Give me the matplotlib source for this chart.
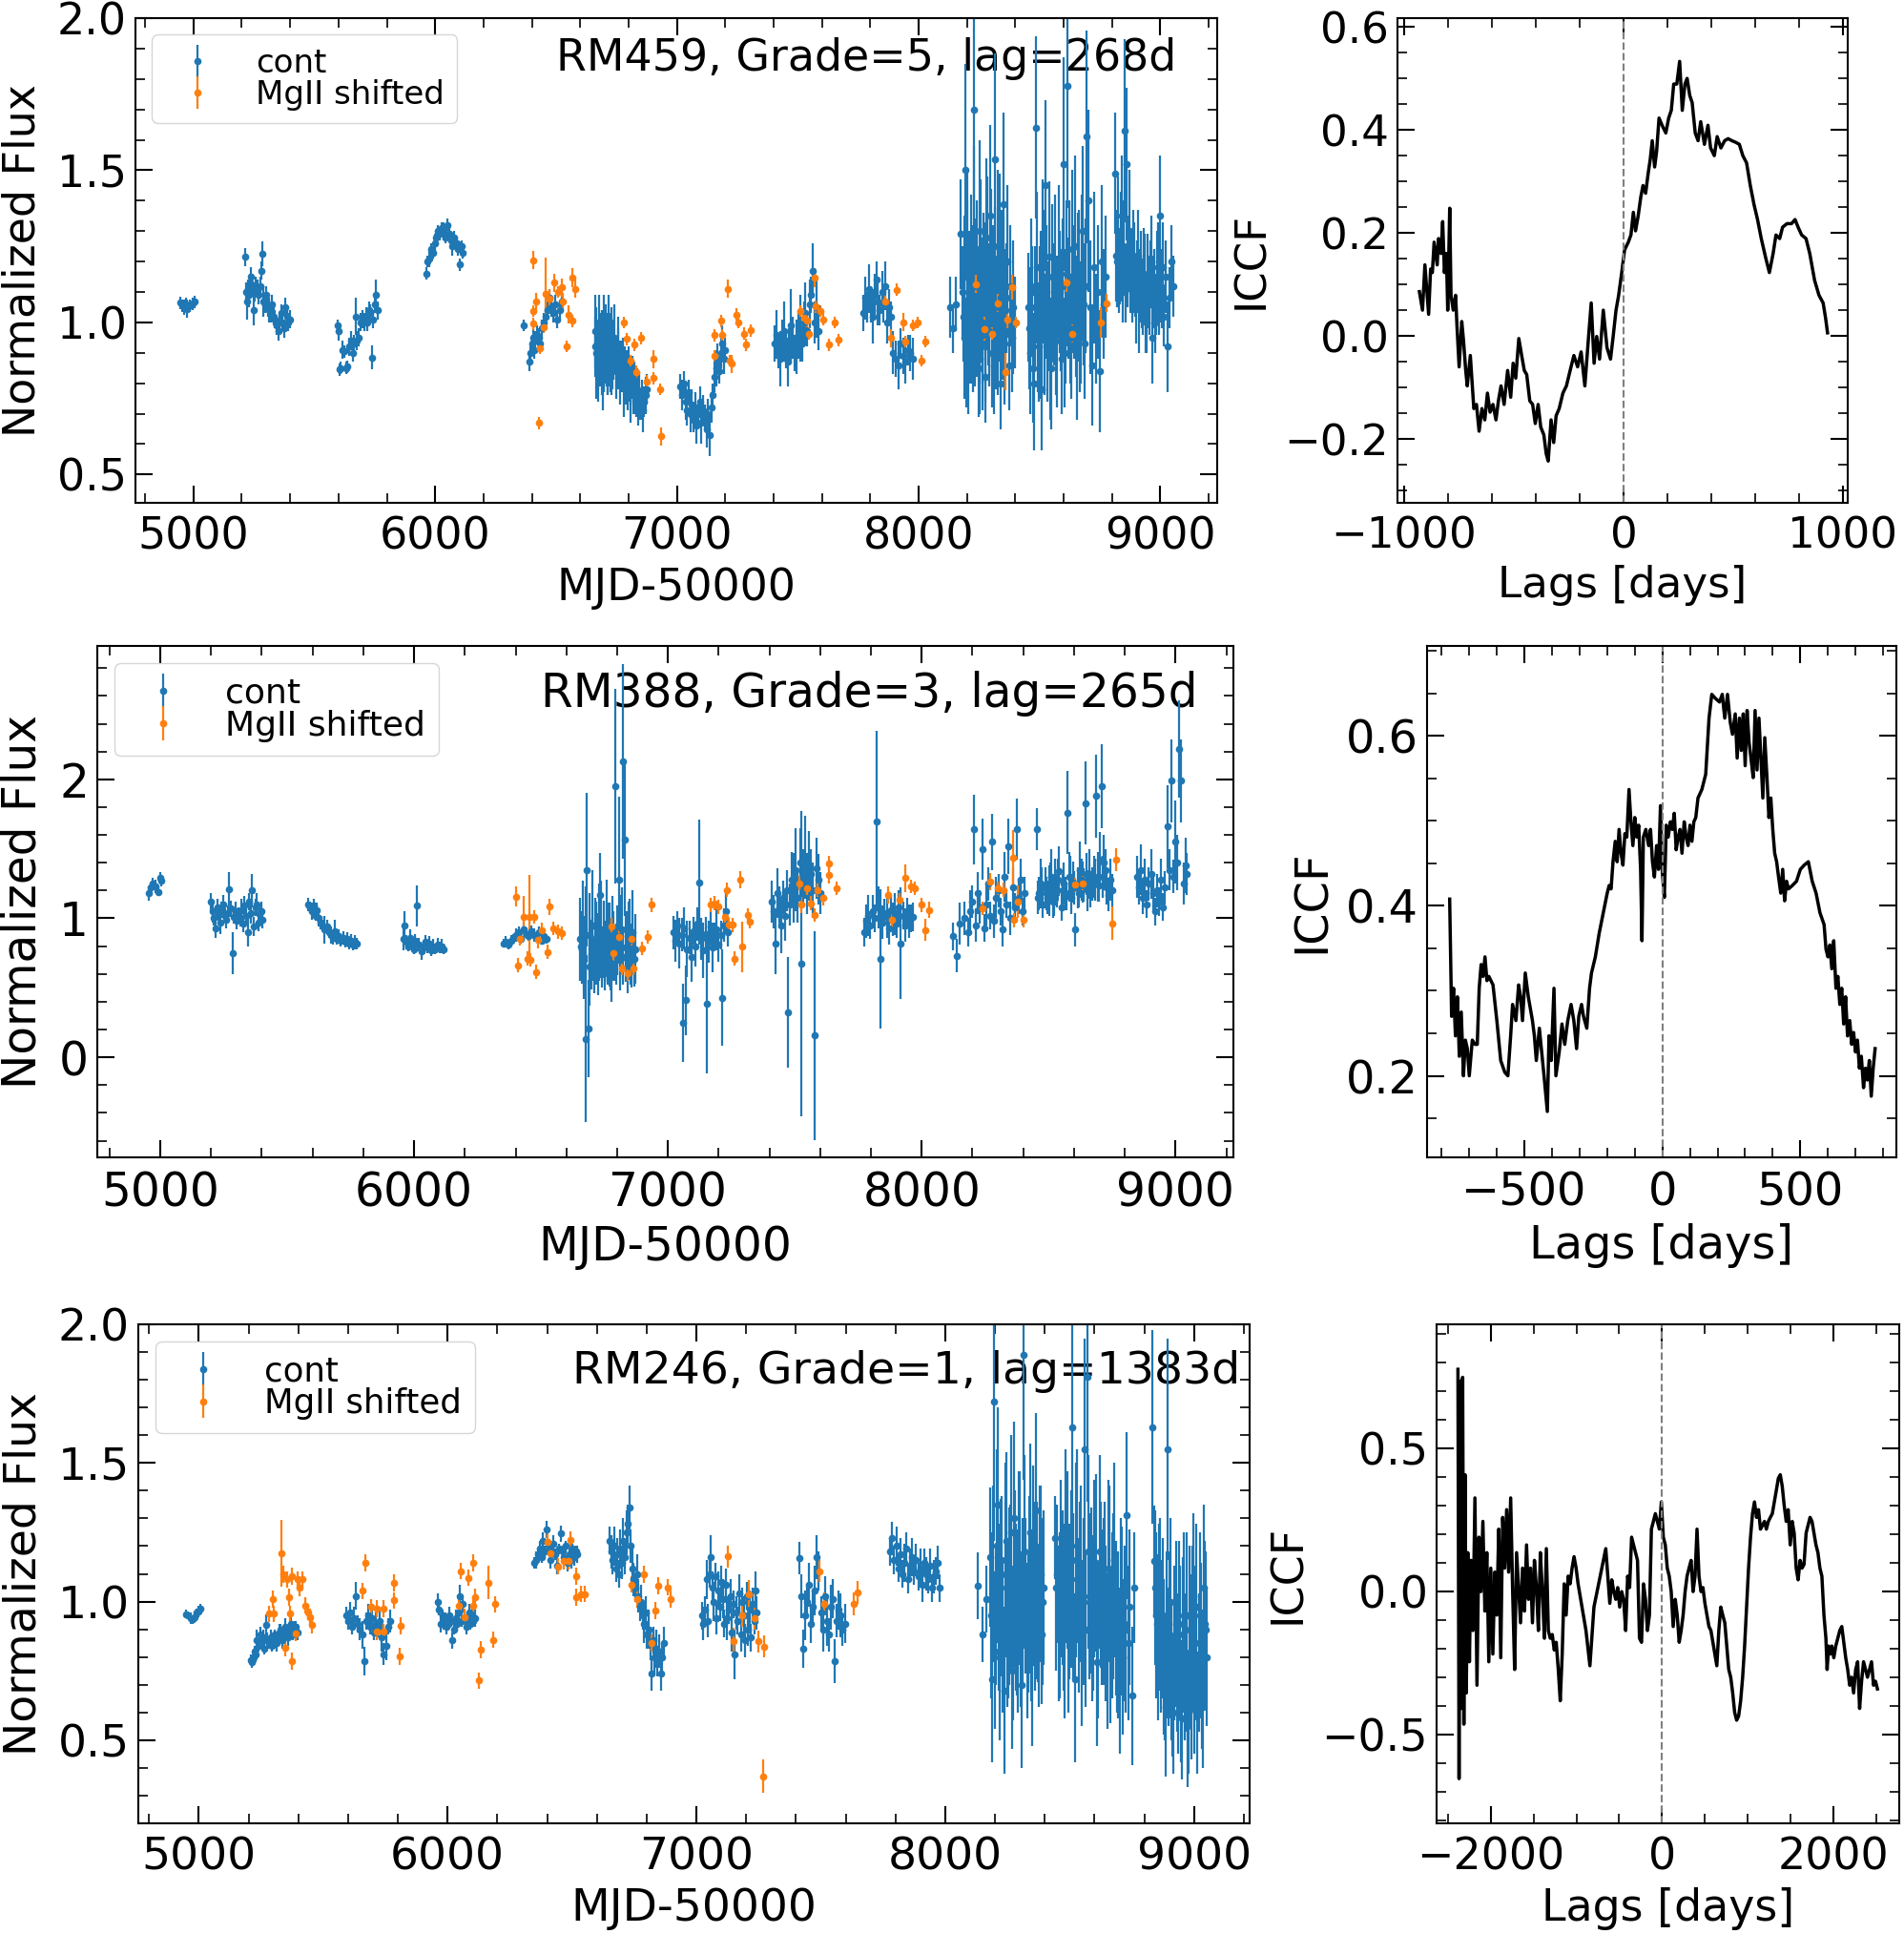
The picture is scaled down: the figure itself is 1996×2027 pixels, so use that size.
import matplotlib
matplotlib.use("Agg")
import matplotlib.pyplot as plt
from matplotlib.ticker import MultipleLocator
from matplotlib.transforms import blended_transform_factory

# ---------------- RM459 ----------------
rm459_cont_t = [4945,4952,4960,4968,4975,4985,4995,5005,
    5213,5216,5220,5224,5228,5233,5238,5243,5248,5253,5258,5264,5270,5276,5280,5284,5290,5296,5302,5308,5314,5320,5326,5332,5338,5344,5350,5356,5362,5368,5374,5380,5386,5392,5398,
    5598,5600,5604,5610,5618,5625,5632,5638,5645,5652,5658,5664,5670,5676,5684,5690,5700,5708,5714,5720,5726,5732,5738,5744,5750,5756,5762,
    5963,5968,5975,5982,5990,5998,6005,6012,6020,6028,6035,6042,6050,6058,6065,6072,6080,6088,6095,6100,6108,6115,
    6368,6390,6395,6400,6405,6410,6415,6420,6428,6435,6442,6450,6458,6465,6472,6480,6488,6495,6505,6515,6525,
    6662,6666,6670,6674,6678,6682,6686,6690,6694,6698,6702,6706,6710,6714,6718,6722,6726,6730,
    6735,6740,6745,6750,6755,6760,6765,6770,6775,6780,6785,6790,6795,6800,6805,6810,6815,6820,6825,6830,6835,6840,6845,6850,6855,6860,6865,6870,6875,
    6664,6672,6680,6688,6696,6704,6712,6720,6728,6738,6748,6758,6768,6778,6788,6798,6808,6818,6828,6838,
    7015,7022,7028,7035,7042,7048,7055,7062,7068,7075,7082,7088,7095,7102,7108,7115,7122,7128,7135,7142,7148,7155,7162,7168,7175,7182,7188,7195,7200,
    7405,7412,7420,7428,7435,7442,7450,7458,7465,7472,7480,7488,7495,7502,7510,7518,7525,7532,7540,7548,7555,7562,7570,7578,7585,
    7772,7780,7788,7795,7802,7810,7818,7825,7832,7840,7848,7855,7862,7870,7878,7885,7895,7905,7915,7925,7935,7945,7955,7965,7975,
    8132,8140,8155,8175,8182,8188,8194,8200,8206,8212,8218,8224,8230,8236,8242,8248,8254,8260,8266,8272,8278,8284,8290,8296,8302,8308,8314,8320,8326,8332,8338,8344,8350,8356,8362,8368,8374,8380,8386,8392,8398,
    8185,8191,8197,8203,8209,8215,8221,8227,8233,8239,8245,8251,8257,8263,8269,8275,8281,8287,8293,8299,8305,8311,8317,8323,8329,8335,8341,8347,8353,8359,
    8454,8462,8470,8478,8486,8494,8502,8510,8518,8526,8534,8542,8550,8558,8566,8574,8582,8590,8598,8606,8614,8622,8630,8638,8646,8654,8662,8670,8678,8686,8694,8702,8710,8718,8726,8734,8742,8750,8758,8766,8774,
    8458,8466,8474,8482,8490,8498,8506,8514,8522,8530,8538,8546,8554,8562,8570,8578,8586,8594,8602,8610,8618,8626,8634,8642,8650,8658,8666,8674,8682,8690,
    8814,8822,8830,8838,8846,8854,8862,8870,8878,8886,8894,8902,8910,8918,8926,8934,8942,8950,8958,8966,8974,8982,8990,8998,9006,9014,9022,9030,9038,9046,9054,
    8818,8826,8834,8842,8850,8858,8866,8874,8882,8890,8898,8906,8914,8922,8930,8938,8946,8954,8962,8970,8978,8986,8994,9002,9010]
rm459_cont_f = [1.065,1.055,1.050,1.060,1.045,1.055,1.062,1.068,
    1.215,1.10,1.07,1.11,1.09,1.13,1.15,1.12,1.04,1.10,1.12,1.11,1.09,1.12,1.17,1.225,1.07,1.06,1.09,1.05,1.04,1.03,1.06,1.02,1.01,0.99,0.97,1.00,1.03,1.00,0.98,1.05,1.02,1.00,1.01,
    0.99,0.97,0.845,0.85,0.91,0.905,0.85,0.855,0.92,0.94,0.90,0.93,1.02,0.94,0.95,1.00,1.01,1.00,1.02,1.00,1.04,1.03,0.885,1.01,1.06,1.09,1.04,
    1.16,1.20,1.21,1.24,1.23,1.26,1.28,1.30,1.29,1.31,1.30,1.28,1.32,1.29,1.27,1.25,1.28,1.26,1.24,1.19,1.25,1.23,
    0.99,0.87,0.90,0.93,0.95,0.91,0.94,0.96,0.95,0.93,0.98,1.00,1.02,1.04,1.08,1.05,1.03,1.06,1.01,1.04,1.07,
    0.97,0.90,0.93,0.88,0.95,0.86,0.92,0.89,0.84,0.93,0.96,0.88,0.91,0.85,0.94,0.90,0.87,0.92,
    0.86,0.95,0.89,0.84,0.90,0.87,0.83,0.88,0.85,0.80,0.86,0.82,0.78,0.84,0.80,0.77,0.82,0.76,0.79,0.74,0.78,0.72,0.76,0.73,0.75,0.71,0.74,0.76,0.78,
    0.92,0.86,0.95,0.90,0.88,0.94,0.85,0.92,0.89,0.91,0.86,0.88,0.84,0.86,0.81,0.83,0.79,0.80,0.76,0.77,
    0.79,0.76,0.80,0.74,0.71,0.77,0.70,0.73,0.68,0.72,0.66,0.70,0.74,0.67,0.71,0.69,0.65,0.70,0.63,0.72,0.76,0.82,0.85,0.88,0.84,0.90,0.93,0.88,0.91,
    0.93,0.96,0.90,0.88,0.94,0.97,0.91,0.87,0.93,0.99,0.95,0.90,0.92,0.96,0.98,0.93,1.00,1.03,0.97,1.06,1.09,1.17,1.00,1.05,0.97,
    1.03,1.08,1.05,1.11,1.06,1.02,1.09,1.14,1.07,1.04,1.10,1.06,1.12,1.00,1.05,1.02,0.90,0.88,0.86,0.93,0.89,0.87,0.91,0.90,0.88,
    1.05,0.98,1.06,1.29,1.10,0.95,1.50,1.18,0.88,1.05,1.22,0.92,1.70,1.12,1.00,0.85,1.30,1.08,0.96,1.15,0.82,1.20,1.02,1.35,0.90,1.10,1.535,0.98,1.25,1.05,0.80,1.15,1.39,0.93,1.08,1.20,0.86,1.12,0.95,1.05,1.00,
    1.02,1.15,0.90,1.25,1.08,0.98,1.12,1.30,0.95,1.18,1.05,0.88,1.22,1.00,1.14,0.92,1.28,1.06,0.97,1.20,1.10,0.86,1.16,1.02,0.94,1.24,1.08,0.99,1.13,1.04,
    1.05,0.90,1.10,0.80,1.64,0.95,1.00,0.78,1.15,1.45,0.92,1.215,0.85,1.05,1.20,0.97,1.10,0.88,1.52,1.02,1.776,1.15,0.95,1.08,1.25,0.90,1.12,1.00,1.30,0.93,1.61,1.40,1.05,0.86,1.18,0.98,1.10,0.84,1.20,1.06,1.15,
    0.98,1.12,0.85,1.05,1.18,0.92,1.08,1.22,0.96,1.10,1.02,0.88,1.15,1.06,0.94,1.20,1.04,1.12,0.90,1.16,1.08,0.98,1.24,1.10,1.02,1.14,0.95,1.18,1.06,1.12,
    1.49,1.20,1.15,1.25,1.10,1.63,1.52,1.30,1.18,1.22,1.12,1.15,1.05,1.20,1.08,1.14,1.00,1.10,1.17,0.95,1.12,1.06,1.18,1.35,1.10,1.02,1.15,0.92,1.08,1.20,1.12,
    1.22,1.30,1.18,1.35,1.25,1.12,1.20,1.15,1.10,1.18,1.05,1.22,1.12,1.08,1.16,1.02,1.14,1.06,1.20,1.10,1.00,1.15,1.08,1.12,1.18]
rm459_cont_e = [0.02,0.02,0.025,0.02,0.03,0.02,0.02,0.02,
    0.03,0.03,0.06,0.03,0.04,0.03,0.03,0.03,0.05,0.03,0.03,0.03,0.03,0.03,0.03,0.04,0.05,0.03,0.03,0.03,0.04,0.03,0.03,0.03,0.03,0.03,0.03,0.03,0.03,0.03,0.03,0.03,0.03,0.03,0.03,
    0.02,0.03,0.02,0.02,0.03,0.02,0.02,0.02,0.03,0.03,0.03,0.03,0.06,0.03,0.03,0.03,0.03,0.03,0.03,0.03,0.03,0.03,0.04,0.03,0.03,0.05,0.03,
    0.02,0.02,0.03,0.02,0.02,0.03,0.02,0.02,0.02,0.02,0.03,0.02,0.02,0.02,0.02,0.03,0.02,0.02,0.02,0.02,0.02,0.02,
    0.02,0.03,0.03,0.03,0.03,0.03,0.03,0.03,0.03,0.03,0.03,0.03,0.03,0.03,0.03,0.03,0.03,0.03,0.03,0.03,0.03,
    0.12,0.15,0.08,0.10,0.14,0.07,0.11,0.09,0.13,0.16,0.10,0.08,0.12,0.09,0.15,0.07,0.10,0.13,
    0.08,0.11,0.06,0.09,0.12,0.07,0.10,0.06,0.08,0.11,0.06,0.09,0.07,0.08,0.06,0.10,0.07,0.06,0.08,0.05,0.07,0.06,0.08,0.05,0.06,0.07,0.05,0.06,0.05,
    0.10,0.12,0.08,0.14,0.10,0.12,0.09,0.11,0.13,0.10,0.08,0.10,0.07,0.09,0.07,0.08,0.06,0.07,0.06,0.06,
    0.04,0.05,0.04,0.06,0.05,0.04,0.06,0.05,0.04,0.05,0.06,0.04,0.05,0.07,0.05,0.04,0.06,0.05,0.07,0.05,0.04,0.05,0.06,0.05,0.04,0.05,0.06,0.05,0.04,
    0.06,0.08,0.05,0.09,0.07,0.10,0.06,0.08,0.05,0.12,0.07,0.06,0.09,0.08,0.11,0.06,0.07,0.10,0.05,0.08,0.06,0.09,0.07,0.10,0.06,
    0.06,0.07,0.05,0.08,0.06,0.09,0.07,0.06,0.08,0.05,0.07,0.06,0.08,0.07,0.06,0.05,0.07,0.06,0.08,0.05,0.06,0.07,0.05,0.06,0.07,
    0.10,0.08,0.09,0.18,0.15,0.20,0.35,0.22,0.18,0.25,0.20,0.15,0.40,0.22,0.18,0.16,0.30,0.20,0.25,0.18,0.15,0.28,0.20,0.30,0.18,0.22,0.35,0.20,0.25,0.18,0.15,0.22,0.30,0.20,0.18,0.25,0.15,0.20,0.18,0.22,0.15,
    0.15,0.20,0.18,0.25,0.22,0.18,0.20,0.28,0.16,0.22,0.20,0.18,0.25,0.20,0.22,0.18,0.26,0.20,0.18,0.24,0.22,0.16,0.22,0.20,0.18,0.25,0.20,0.18,0.22,0.20,
    0.18,0.20,0.15,0.22,0.30,0.18,0.25,0.20,0.22,0.28,0.18,0.25,0.20,0.18,0.22,0.25,0.20,0.18,0.35,0.22,0.40,0.25,0.20,0.18,0.30,0.22,0.25,0.20,0.28,0.18,0.35,0.30,0.22,0.20,0.25,0.18,0.22,0.20,0.25,0.18,0.20,
    0.20,0.22,0.18,0.20,0.25,0.18,0.22,0.25,0.20,0.22,0.18,0.20,0.24,0.20,0.18,0.25,0.20,0.22,0.18,0.24,0.20,0.18,0.26,0.22,0.20,0.22,0.18,0.24,0.20,0.22,
    0.20,0.15,0.12,0.18,0.10,0.30,0.25,0.20,0.12,0.15,0.10,0.12,0.15,0.10,0.12,0.15,0.10,0.12,0.10,0.15,0.12,0.10,0.15,0.20,0.12,0.10,0.12,0.15,0.10,0.12,0.10,
    0.15,0.18,0.12,0.20,0.15,0.12,0.15,0.12,0.10,0.15,0.12,0.15,0.12,0.10,0.15,0.12,0.15,0.10,0.15,0.12,0.10,0.15,0.12,0.12,0.15]
rm459_line_t = [6404,6404,6404,6419,6431,6434,6449,6456,6471,6493,6507,6522,6529,6544,6551,6566,6566,6581,
    6779,6791,6809,6824,6831,6850,6875,6904,6904,6929,6934,
    7157,7157,7183,7187,7210,7217,7225,7247,7255,7277,7285,7307,
    7510,7525,7540,7547,7570,7573,7592,7607,7630,7652,7667,
    7862,7885,7910,7937,7945,7975,7997,8012,8027,
    8237,8274,8304,8327,8357,8365,8387,8402,
    8612,8634,8754,8777]
rm459_line_f = [1.204,1.037,0.995,1.068,0.670,0.916,0.984,1.094,1.079,1.131,1.100,1.115,1.068,0.921,1.026,1.147,1.005,1.110,
    1.000,0.945,0.874,0.927,0.838,0.948,0.806,0.880,0.817,0.780,0.626,
    0.958,0.890,1.005,0.958,1.110,0.874,0.864,1.026,1.000,0.963,0.927,0.974,
    1.037,1.016,1.005,0.963,1.147,1.052,1.037,1.010,0.927,1.000,0.942,
    1.068,0.948,1.107,1.000,0.937,0.990,1.000,0.874,0.937,
    1.126,0.979,0.963,1.063,0.838,1.010,1.115,1.000,
    1.131,0.963,1.000,1.063]
rm459_line_e = [0.03,0.02,0.02,0.03,0.02,0.02,0.02,0.12,0.03,0.03,0.02,0.03,0.03,0.02,0.03,0.03,0.02,0.03,
    0.02,0.02,0.02,0.02,0.02,0.02,0.02,0.03,0.02,0.02,0.03,
    0.02,0.02,0.02,0.02,0.03,0.02,0.03,0.02,0.02,0.02,0.02,0.02,
    0.02,0.02,0.02,0.02,0.03,0.02,0.02,0.02,0.02,0.02,0.02,
    0.02,0.03,0.02,0.03,0.02,0.02,0.02,0.02,0.02,
    0.03,0.04,0.02,0.03,0.06,0.03,0.04,0.02,
    0.03,0.03,0.05,0.03]

# ---------------- RM388 ----------------
rm388_cont_t = [4954,4962,4971,4980,4993,5000,5005,
    5201,5206,5212,5218,5224,5230,5236,5242,5248,5254,5260,5266,5272,5278,5284,5290,5296,5302,5308,5314,5320,5326,5332,5338,5344,5350,5356,5362,5368,5374,5380,5386,5392,5398,5404,
    5583,5590,5597,5604,5611,5618,5625,5632,5640,5648,5656,5664,5672,5680,5688,5696,5704,5712,5720,5728,5736,5744,5752,5760,5768,5776,
    5957,5963,5970,5977,5984,5991,5998,6005,6012,6020,6028,6036,6044,6052,6060,6068,6076,6084,6092,6100,6108,6115,
    6353,6362,6372,6382,6392,6402,6412,6422,6432,6442,6452,6462,6472,6482,6492,6502,6512,6522,
    6655,6660,6665,6670,6675,6680,6686,6692,6698,6704,6710,6716,6722,6728,6734,6740,6746,6752,6758,6764,6770,6776,6782,6788,6794,6800,6806,6812,6818,6824,6830,6836,6842,6848,6854,6860,6866,6872,
    6658,6668,6678,6690,6702,6714,6726,6738,6750,6762,6774,6786,6798,6810,6822,6834,6846,6858,
    7022,7030,7038,7046,7054,7058,7062,7069,7076,7084,7092,7100,7108,7116,7124,7132,7140,7148,7153,7160,7168,7176,7184,7192,7200,7208,7212,7220,7228,7236,
    7409,7416,7423,7430,7438,7446,7454,7462,7470,7474,7480,7488,7496,7504,7512,7520,7526,7532,7540,7548,7556,7564,7572,7577,7584,7592,7600,
    7774,7782,7790,7798,7806,7814,7822,7830,7838,7846,7854,7862,7870,7878,7886,7894,7902,7910,7918,7926,7934,7942,7950,7958,7966,
    8124,8140,8150,8168,8182,8190,8198,8206,8214,8222,8230,8238,8246,8254,8262,8270,8278,8286,8294,8302,8310,8318,8326,8334,8342,8350,8358,8366,8374,8382,8390,8398,8406,
    8453,8462,8470,8478,8486,8494,8502,8510,8518,8526,8534,8542,8550,8558,8566,8574,8582,8590,8598,8606,8614,8622,8630,8638,8646,8654,8662,8670,8678,8686,8694,8702,8710,8718,8726,8734,8742,8752,
    8458,8474,8490,8506,8522,8538,8554,8570,8586,8602,8618,8634,8650,8666,8682,8698,8714,8730,
    8847,8855,8863,8871,8879,8887,8895,8903,8911,8919,8927,8935,8943,8951,8959,8967,8975,8983,8991,8999,9007,9015,9023,9031,9039,9044]
rm388_cont_f = [1.18,1.22,1.25,1.23,1.19,1.29,1.27,
    1.12,1.05,1.00,0.93,1.08,1.03,0.97,1.06,1.10,1.02,0.99,1.04,1.21,1.07,0.75,1.01,1.05,0.98,1.03,1.00,1.06,0.96,1.09,1.02,0.90,1.12,1.04,1.20,0.94,1.08,1.10,0.97,1.03,1.05,0.99,
    1.10,1.08,1.05,1.09,1.02,1.06,1.00,0.97,0.95,0.92,0.94,0.90,0.88,0.86,0.91,0.85,0.87,0.84,0.86,0.83,0.85,0.82,0.84,0.81,0.83,0.82,
    0.85,0.95,0.83,0.80,0.86,0.82,0.78,0.84,1.09,0.81,0.76,0.80,0.83,0.79,0.82,0.77,0.80,0.78,0.81,0.79,0.80,0.78,
    0.82,0.83,0.81,0.84,0.86,0.88,0.90,0.85,0.92,0.89,0.87,0.91,0.88,0.86,0.90,0.84,0.87,0.85,
    0.85,0.78,0.92,0.70,0.133,1.35,0.205,0.88,0.74,0.95,0.66,0.82,0.79,0.90,1.17,0.72,0.85,0.68,0.93,0.77,0.81,0.62,0.88,0.75,1.95,0.84,1.277,0.70,0.92,2.13,1.566,0.80,0.66,0.86,0.74,0.90,0.71,0.78,
    0.80,0.72,0.88,0.65,0.78,0.85,0.70,0.92,0.76,0.83,0.68,0.80,0.74,0.87,0.72,0.79,0.84,0.70,
    0.90,0.84,0.95,0.82,0.88,0.25,0.93,0.41,0.78,0.86,0.72,0.91,0.80,0.96,1.26,0.85,0.77,0.89,0.385,0.83,0.94,0.79,0.87,0.92,0.81,0.88,0.43,0.95,1.05,0.90,
    1.12,1.05,0.82,1.18,1.08,0.95,1.15,1.02,1.20,0.325,1.10,1.28,1.22,1.35,1.15,1.40,0.675,1.30,1.44,1.25,1.38,1.32,1.20,0.157,1.36,1.28,1.18,
    0.90,0.98,1.02,0.95,1.05,1.00,1.70,1.08,0.71,0.97,1.04,1.01,0.93,1.06,0.99,1.03,0.96,1.08,0.82,1.02,0.95,1.05,0.98,1.00,1.01,
    0.87,0.73,0.96,1.00,0.90,1.05,1.12,1.64,0.95,1.18,1.08,1.50,0.93,1.10,1.25,1.02,1.55,0.98,1.15,1.20,1.05,0.92,1.30,1.10,1.52,1.00,1.22,1.08,1.64,1.15,1.28,1.05,1.18,
    1.64,1.18,1.25,1.10,1.22,1.15,1.20,1.30,1.12,1.28,1.20,1.34,1.08,1.25,1.18,1.76,1.30,1.15,1.26,0.92,1.22,1.35,1.28,1.24,1.83,1.20,1.32,1.25,1.30,1.88,1.30,1.42,1.95,1.40,1.35,1.17,1.28,1.20,
    1.15,1.22,1.18,1.25,1.12,1.28,1.20,1.16,1.30,1.22,1.18,1.26,1.32,1.20,1.28,1.24,1.30,1.22,
    1.30,1.22,1.35,1.15,1.28,1.10,1.25,1.32,1.18,1.05,1.20,1.12,1.28,1.08,1.22,1.66,1.35,1.99,1.30,1.55,1.40,2.22,1.99,1.25,1.38,1.32]
rm388_cont_e = [0.05,0.04,0.04,0.05,0.03,0.04,0.04,
    0.06,0.08,0.05,0.07,0.06,0.05,0.08,0.06,0.07,0.05,0.06,0.05,0.12,0.06,0.15,0.05,0.07,0.06,0.05,0.06,0.08,0.06,0.07,0.05,0.10,0.06,0.08,0.12,0.07,0.06,0.08,0.06,0.05,0.07,0.06,
    0.05,0.04,0.06,0.05,0.04,0.05,0.06,0.05,0.04,0.10,0.05,0.04,0.06,0.05,0.08,0.04,0.05,0.04,0.05,0.04,0.05,0.04,0.05,0.04,0.05,0.04,
    0.08,0.10,0.05,0.04,0.06,0.05,0.04,0.05,0.15,0.05,0.06,0.04,0.05,0.04,0.05,0.04,0.05,0.04,0.05,0.04,0.05,0.04,
    0.03,0.04,0.03,0.04,0.03,0.05,0.04,0.03,0.05,0.04,0.03,0.04,0.05,0.03,0.04,0.03,0.04,0.03,
    0.30,0.25,0.35,0.20,0.60,0.55,0.35,0.30,0.25,0.40,0.20,0.30,0.25,0.35,0.30,0.22,0.28,0.20,0.35,0.25,0.30,0.22,0.28,0.20,0.70,0.25,0.60,0.22,0.30,0.70,0.55,0.25,0.20,0.28,0.22,0.30,0.20,0.25,
    0.25,0.30,0.35,0.28,0.22,0.30,0.25,0.35,0.22,0.28,0.20,0.25,0.22,0.30,0.20,0.25,0.28,0.20,
    0.12,0.15,0.10,0.18,0.12,0.28,0.15,0.25,0.20,0.12,0.18,0.10,0.15,0.12,0.45,0.15,0.20,0.12,0.50,0.15,0.12,0.18,0.10,0.15,0.12,0.10,0.35,0.12,0.15,0.10,
    0.15,0.12,0.22,0.18,0.15,0.20,0.12,0.18,0.15,0.40,0.15,0.20,0.25,0.30,0.18,0.25,1.10,0.20,0.30,0.22,0.25,0.18,0.20,0.75,0.22,0.18,0.15,
    0.10,0.12,0.15,0.10,0.12,0.10,0.65,0.15,0.50,0.12,0.10,0.15,0.12,0.10,0.12,0.15,0.10,0.12,0.40,0.10,0.12,0.10,0.12,0.10,0.10,
    0.10,0.12,0.15,0.12,0.10,0.15,0.12,0.25,0.12,0.15,0.12,0.22,0.10,0.15,0.12,0.10,0.20,0.12,0.15,0.12,0.10,0.12,0.18,0.10,0.20,0.12,0.15,0.10,0.22,0.12,0.15,0.10,0.12,
    0.15,0.12,0.18,0.10,0.15,0.12,0.18,0.20,0.12,0.15,0.12,0.18,0.10,0.15,0.12,0.30,0.18,0.12,0.15,0.12,0.15,0.20,0.15,0.12,0.30,0.15,0.18,0.12,0.15,0.30,0.18,0.20,0.30,0.20,0.15,0.12,0.15,0.12,
    0.12,0.15,0.12,0.15,0.10,0.15,0.12,0.10,0.15,0.12,0.10,0.15,0.15,0.12,0.15,0.12,0.15,0.12,
    0.15,0.12,0.18,0.12,0.15,0.10,0.12,0.18,0.12,0.10,0.12,0.10,0.15,0.10,0.12,0.30,0.15,0.30,0.12,0.30,0.20,0.35,0.30,0.15,0.20,0.15]
rm388_line_t = [6403,6410,6417,6432,6446,6453,6460,6475,6482,6489,6504,6525,6532,6547,6568,6583,
    6777,6784,6806,6820,6842,6863,6856,6899,6921,6935,
    7168,7182,7197,7234,7226,7241,7255,7263,7285,7292,7314,7321,
    7518,7526,7547,7562,7577,7591,7613,7635,7635,7664,
    7869,7883,7912,7934,7956,7971,8000,8015,8029,
    8241,8270,8299,8321,8358,8365,8380,8401,
    8606,8635,8752,8766]
rm388_line_f = [1.157,0.663,0.855,1.012,0.711,1.010,0.700,1.010,0.614,0.843,0.916,0.759,1.084,0.928,0.904,0.892,
    0.940,0.747,0.867,0.639,0.602,0.639,0.855,0.783,0.867,1.096,
    1.096,1.108,1.084,1.205,1.012,0.952,0.952,0.711,1.277,0.795,1.024,0.976,
    1.253,1.096,1.217,1.108,1.024,1.205,1.145,1.313,1.398,1.217,
    1.169,0.988,1.133,1.289,1.229,1.217,1.096,0.916,1.060,
    1.072,1.265,1.217,1.205,1.434,0.988,1.120,0.988,
    1.241,1.253,0.964,1.422]
rm388_line_e = [0.07,0.05,0.05,0.15,0.05,0.30,0.05,0.05,0.05,0.06,0.05,0.05,0.06,0.05,0.05,0.05,
    0.06,0.05,0.05,0.05,0.05,0.05,0.05,0.05,0.05,0.05,
    0.05,0.05,0.05,0.05,0.06,0.05,0.05,0.05,0.06,0.18,0.05,0.05,
    0.05,0.06,0.05,0.05,0.05,0.05,0.05,0.06,0.05,0.05,
    0.06,0.05,0.05,0.10,0.05,0.05,0.05,0.08,0.06,
    0.05,0.06,0.05,0.05,0.20,0.05,0.12,0.05,
    0.05,0.05,0.12,0.08]

# ---------------- RM246 ----------------
rm246_cont_t = [4950,4958,4966,4974,4982,4990,5000,5006,
    5209,5214,5219,5224,5229,5234,5240,5246,5252,5258,5264,5270,5276,5282,5288,5294,5300,5306,5312,5318,5324,5330,5336,5342,5348,5354,5360,5366,5372,5378,5384,5390,5396,
    5592,5600,5608,5616,5624,5632,5640,5648,5656,5664,5672,5680,5688,5696,5704,5712,5720,5728,5736,5744,5752,5760,5768,
    5960,5966,5972,5978,5984,5990,5996,6002,6008,6014,6020,6026,6032,6038,6044,6050,6056,6062,6068,6074,6080,6086,6092,6098,6104,6110,
    6349,6356,6363,6370,6377,6384,6391,6398,6405,6412,6419,6426,6433,6440,6447,6454,6461,6468,6475,6482,6489,6496,6503,6510,6517,6522,
    6652,6658,6664,6670,6676,6682,6688,6694,6700,6706,6712,6718,6724,6730,6736,6742,6748,6754,6760,6766,6772,6778,6784,6790,6796,6802,6808,6814,6820,6826,6832,6838,6844,6850,6856,6862,6868,
    7022,7028,7034,7040,7046,7052,7058,7064,7070,7076,7082,7088,7094,7100,7106,7112,7118,7124,7130,7136,7142,7148,7154,7160,7166,7172,7178,7184,7190,7196,7202,7208,7214,7220,7226,7232,7238,7243,
    7412,7420,7428,7436,7444,7452,7460,7468,7476,7484,7492,7500,7508,7516,7524,7532,7540,7548,7556,7564,7572,7580,7588,7596,
    7779,7787,7795,7803,7811,7819,7827,7835,7843,7851,7859,7867,7875,7883,7891,7899,7907,7915,7923,7931,7939,7947,7955,7963,7971,7978,
    8132,8150,8165,8180,8188,8196,8204,8212,8220,8228,8236,8244,8252,8260,8268,8276,8284,8292,8300,8308,8316,8324,8332,8340,8348,8356,8364,8372,8380,8388,8396,
    8184,8192,8200,8208,8216,8224,8232,8240,8248,8256,8264,8272,8280,8288,8296,8304,8312,8320,8328,8336,8344,8352,8360,8368,8376,8384,8392,
    8441,8450,8460,8470,8480,8490,8500,8510,8520,8530,8540,8550,8560,8570,8580,8590,8600,8610,8620,8630,8640,8650,8660,8670,8680,8690,8700,8710,8720,8730,8740,8750,8760,
    8445,8455,8465,8475,8485,8495,8505,8515,8525,8535,8545,8555,8565,8575,8585,8595,8605,8615,8625,8635,8645,8655,8665,8675,8685,8695,8705,8715,8725,8735,
    8831,8838,8846,8854,8862,8870,8878,8886,8894,8902,8910,8918,8926,8934,8942,8950,8958,8966,8974,8982,8990,8998,9006,9014,9022,9030,9038,9046,9051,
    8842,8850,8858,8866,8874,8882,8890,8898,8906,8914,8922,8930,8938,8946,8954,8962,8970,8978,8986,8994,9002,9010,9018,9026,9034,9042]
rm246_cont_f = [0.955,0.950,0.940,0.935,0.945,0.960,0.965,0.975,
    0.79,0.78,0.80,0.82,0.81,0.86,0.84,0.88,0.85,0.87,0.83,0.915,0.86,0.85,0.87,0.84,0.86,0.88,0.85,0.87,0.89,0.90,0.86,0.88,0.91,0.89,0.87,0.90,0.92,0.88,0.90,0.91,0.89,
    0.95,0.93,0.96,0.91,0.94,1.02,0.92,0.90,0.88,0.785,0.93,0.95,0.91,0.94,0.89,0.92,0.90,0.93,0.87,0.81,0.84,0.91,0.93,
    1.00,0.97,0.92,0.95,0.93,0.94,0.91,0.92,0.95,0.93,0.86,0.90,0.94,0.92,0.96,1.02,0.93,0.99,0.94,0.91,0.93,0.96,0.92,0.95,0.93,0.94,
    1.14,1.15,1.17,1.19,1.16,1.22,1.18,1.26,1.20,1.15,1.18,1.21,1.17,1.13,1.19,1.245,1.18,1.16,1.20,1.14,1.17,1.15,1.19,1.16,1.18,1.17,
    1.22,1.18,1.15,1.20,1.12,1.17,1.10,1.19,1.14,1.22,1.16,1.25,1.28,1.34,1.20,1.12,1.08,1.05,1.10,1.02,0.98,1.00,0.95,0.92,0.96,0.88,0.90,0.85,0.74,0.86,0.80,0.83,0.78,0.82,0.74,0.80,0.85,
    0.95,0.92,0.97,1.08,0.93,1.10,1.16,1.05,1.00,1.09,0.94,1.04,0.98,1.07,1.01,0.92,1.06,0.94,0.97,1.02,0.89,0.99,0.81,0.96,0.93,1.03,0.88,1.00,0.95,0.86,1.02,0.90,0.97,0.87,0.99,0.93,1.04,0.96,
    1.157,1.02,0.83,0.95,1.00,1.06,0.92,0.98,1.04,1.16,1.11,0.96,0.90,1.02,0.93,0.88,0.98,1.01,0.785,0.93,0.97,0.95,0.90,0.92,
    1.18,1.228,1.15,1.20,1.12,1.17,1.10,1.14,1.19,1.08,1.13,1.16,1.11,1.15,1.09,1.12,1.06,1.14,1.10,1.08,1.13,1.05,1.09,1.11,1.14,1.05,
    1.057,0.88,1.01,1.16,0.72,1.72,0.95,1.35,0.80,1.10,0.68,1.22,0.90,1.05,0.75,1.30,0.98,0.85,1.15,0.70,1.89,1.02,0.92,1.25,0.78,1.08,1.33,0.96,1.12,0.88,1.05,
    0.95,1.10,0.82,1.20,0.98,1.05,0.88,1.15,0.92,1.02,1.25,0.85,1.08,0.96,1.12,0.90,1.00,1.18,0.86,1.06,0.94,1.14,0.98,1.04,0.90,1.10,1.00,
    1.23,1.10,0.95,1.05,0.88,1.15,1.00,1.63,0.72,1.20,1.08,0.85,1.55,1.81,1.02,0.92,1.12,0.78,1.18,0.98,1.06,0.82,1.10,0.95,1.15,0.88,0.75,1.02,0.92,1.31,0.98,0.66,1.05,
    1.05,0.92,1.12,0.98,1.20,0.88,1.08,1.02,1.15,0.95,1.10,1.00,0.90,1.18,1.04,0.96,1.14,0.86,1.06,1.00,0.92,1.12,0.84,1.02,0.94,0.88,0.98,0.80,0.90,0.85,
    1.63,1.145,0.95,0.85,1.00,0.90,0.80,0.62,1.55,0.88,0.75,0.60,0.92,0.70,0.85,0.58,0.95,0.78,0.55,0.90,0.68,1.02,0.85,0.60,0.95,0.72,1.05,0.90,0.80,
    1.05,0.92,0.98,0.85,0.95,0.72,0.88,0.80,1.00,0.66,0.85,0.78,0.92,0.64,0.88,0.75,0.95,0.60,0.82,0.90,0.70,0.98,0.78,0.86,0.62,0.92]
rm246_cont_e = [0.015,0.015,0.02,0.015,0.015,0.015,0.02,0.015,
    0.02,0.02,0.03,0.02,0.03,0.04,0.02,0.03,0.02,0.03,0.02,0.04,0.03,0.02,0.03,0.02,0.03,0.02,0.03,0.02,0.03,0.02,0.03,0.02,0.03,0.02,0.03,0.02,0.03,0.02,0.03,0.02,0.03,
    0.03,0.03,0.04,0.03,0.04,0.05,0.03,0.04,0.05,0.05,0.03,0.04,0.03,0.04,0.03,0.04,0.03,0.04,0.05,0.04,0.05,0.03,0.04,
    0.03,0.02,0.03,0.02,0.03,0.02,0.03,0.02,0.03,0.02,0.03,0.02,0.03,0.02,0.03,0.04,0.02,0.03,0.02,0.03,0.02,0.03,0.02,0.03,0.02,0.03,
    0.02,0.03,0.02,0.03,0.02,0.03,0.02,0.03,0.02,0.03,0.02,0.03,0.02,0.03,0.02,0.03,0.02,0.03,0.02,0.03,0.02,0.03,0.02,0.03,0.02,0.03,
    0.05,0.06,0.05,0.07,0.05,0.06,0.05,0.07,0.06,0.08,0.06,0.08,0.07,0.08,0.06,0.07,0.06,0.05,0.07,0.06,0.05,0.06,0.05,0.07,0.06,0.05,0.07,0.06,0.06,0.05,0.06,0.07,0.05,0.06,0.06,0.05,0.06,
    0.05,0.06,0.05,0.07,0.06,0.05,0.08,0.06,0.07,0.05,0.06,0.07,0.05,0.06,0.07,0.05,0.06,0.08,0.05,0.06,0.07,0.05,0.09,0.06,0.05,0.07,0.06,0.05,0.07,0.06,0.05,0.06,0.07,0.05,0.06,0.05,0.07,0.06,
    0.06,0.08,0.07,0.09,0.06,0.08,0.07,0.06,0.09,0.08,0.07,0.06,0.08,0.07,0.09,0.06,0.08,0.07,0.08,0.06,0.07,0.08,0.06,0.07,
    0.05,0.06,0.05,0.07,0.05,0.06,0.05,0.07,0.06,0.05,0.06,0.07,0.05,0.06,0.05,0.07,0.06,0.05,0.06,0.05,0.06,0.05,0.06,0.05,0.06,0.05,
    0.12,0.10,0.12,0.25,0.30,0.50,0.25,0.35,0.30,0.28,0.30,0.32,0.25,0.30,0.28,0.35,0.30,0.25,0.32,0.30,0.45,0.28,0.25,0.32,0.30,0.28,0.35,0.25,0.30,0.25,0.28,
    0.30,0.32,0.28,0.35,0.30,0.32,0.28,0.35,0.30,0.32,0.35,0.28,0.32,0.30,0.35,0.28,0.30,0.35,0.28,0.32,0.30,0.35,0.30,0.32,0.28,0.32,0.30,
    0.15,0.25,0.30,0.28,0.30,0.32,0.28,0.45,0.30,0.35,0.28,0.30,0.40,0.45,0.30,0.28,0.32,0.30,0.35,0.28,0.30,0.28,0.32,0.30,0.35,0.28,0.30,0.25,0.28,0.30,0.28,0.25,0.20,
    0.30,0.28,0.32,0.30,0.35,0.28,0.32,0.30,0.35,0.28,0.32,0.30,0.28,0.35,0.30,0.28,0.32,0.28,0.30,0.30,0.28,0.32,0.28,0.30,0.28,0.30,0.32,0.28,0.30,0.28,
    0.35,0.20,0.30,0.28,0.30,0.25,0.28,0.25,0.40,0.30,0.25,0.22,0.30,0.25,0.28,0.22,0.30,0.25,0.22,0.30,0.25,0.30,0.28,0.22,0.30,0.25,0.30,0.28,0.25,
    0.28,0.25,0.30,0.25,0.28,0.22,0.30,0.25,0.30,0.22,0.28,0.25,0.30,0.22,0.28,0.25,0.30,0.22,0.28,0.30,0.25,0.30,0.25,0.28,0.22,0.30]
rm246_line_t = [5281,5296,5303,5332,5339,5354,5361,5368,5375,5346,5375,5390,5397,5404,5418,5426,5440,5447,5455,
    5671,5657,5693,5714,5743,5714,5743,5786,5784,5812,5808,
    6046,6053,6068,6082,6104,6104,6111,6133,6162,6190,6183,6126,
    6400,6414,6443,6465,6486,6493,6515,6515,6537,6551,
    6739,6760,6789,6833,6818,6847,6883,6897,
    7125,7151,7184,7210,7235,7250,7272,7269,
    7493,7515,7632,7647]
rm246_line_f = [0.956,1.009,0.956,1.175,1.098,1.080,1.015,0.956,1.092,0.833,0.785,0.886,1.080,1.050,1.080,0.986,0.962,0.945,0.915,
    1.139,1.039,0.980,0.974,0.974,0.891,0.891,1.068,1.004,0.912,0.803,
    0.986,1.110,0.945,1.086,1.139,0.986,1.015,0.827,1.068,0.990,0.862,0.715,
    1.216,1.175,1.127,1.145,1.145,1.222,1.092,1.015,1.027,1.027,
    1.062,1.009,1.098,0.968,0.850,1.057,1.051,1.009,
    1.163,0.856,0.950,1.027,0.939,0.856,0.838,0.369,
    1.110,0.992,0.992,1.033]
rm246_line_e = [0.03,0.03,0.03,0.12,0.03,0.03,0.03,0.03,0.03,0.03,0.03,0.03,0.03,0.03,0.03,0.03,0.03,0.03,0.03,
    0.03,0.03,0.03,0.03,0.03,0.03,0.03,0.03,0.03,0.03,0.03,
    0.03,0.03,0.03,0.03,0.03,0.03,0.03,0.03,0.06,0.03,0.03,0.03,
    0.03,0.03,0.03,0.03,0.03,0.03,0.03,0.03,0.03,0.03,
    0.03,0.03,0.03,0.03,0.03,0.03,0.03,0.03,
    0.04,0.05,0.04,0.05,0.04,0.04,0.04,0.06,
    0.04,0.04,0.04,0.04]

# ---------------- ICCF curves ----------------
iccf459_lag = [-930,-916,-905,-896,-888,-879,-871,-863,-849,-843,-832,-824,-816,-807,-801,-792,-786,-776,-765,-759,
    -749,-737,-729,-719,-712,-698,-690,-682,-670,-658,-645,-632,-620,-608,-595,-581,-570,-558,-544,-528,
    -514,-503,-491,-477,-464,-452,-441,-427,-414,-402,-389,-377,-363,-352,-343,-330,-318,-307,-293,-276,
    -260,-243,-226,-209,-193,-176,-159,-147,-134,-122,-109,-92,-75,-59,-47,-34,-22,-8,5,22,
    34,45,55,67,79,89,101,112,122,131,142,151,162,176,193,206,218,229,243,256,
    268,280,290,302,313,327,340,352,369,385,397,414,427,444,461,477,494,511,528,544,
    561,578,595,611,628,648,665,682,695,712,725,745,766,782,796,812,832,849,871,891,910,921,930]
iccf459_val = [0.086,0.050,0.138,0.086,0.042,0.130,0.123,0.182,0.138,0.189,0.160,0.222,0.123,0.160,0.050,0.248,0.079,0.050,0.079,0.021,
    -0.060,0.028,-0.009,-0.067,-0.097,-0.038,-0.089,-0.141,-0.133,-0.185,-0.141,-0.163,-0.111,-0.148,-0.133,-0.163,-0.126,-0.097,-0.133,-0.067,
    -0.119,-0.053,-0.082,-0.005,-0.038,-0.067,-0.075,-0.126,-0.133,-0.170,-0.133,-0.177,-0.192,-0.229,-0.243,-0.163,-0.207,-0.155,-0.141,-0.111,
    -0.097,-0.067,-0.038,-0.060,-0.031,-0.097,-0.001,0.064,-0.053,-0.001,-0.045,0.050,-0.023,-0.045,-0.001,0.050,0.079,0.123,0.167,0.182,
    0.196,0.240,0.204,0.233,0.270,0.292,0.277,0.314,0.343,0.379,0.328,0.358,0.423,0.409,0.394,0.423,0.438,0.489,0.489,0.533,
    0.438,0.489,0.500,0.467,0.453,0.394,0.379,0.416,0.372,0.409,0.365,0.350,0.387,0.365,0.379,0.383,0.379,0.376,0.372,0.350,
    0.336,0.292,0.255,0.226,0.189,0.152,0.123,0.160,0.196,0.189,0.211,0.218,0.218,0.226,0.211,0.196,0.189,0.160,0.108,0.079,0.064,0.035,0.006]

iccf388_lag = [-771,-764,-757,-750,-743,-736,-729,-721,-714,-707,-700,-689,-679,-671,-664,-657,-650,-643,-636,-629,
    -614,-600,-586,-571,-560,-550,-543,-531,-521,-514,-507,-497,-486,-471,-464,-457,-446,-436,-429,-417,
    -411,-403,-393,-386,-374,-364,-354,-343,-331,-321,-311,-303,-293,-286,-274,-264,-257,-243,-229,-214,
    -200,-193,-186,-179,-171,-164,-157,-150,-143,-136,-129,-121,-114,-107,-100,-93,-86,-79,-74,-69,
    -60,-50,-43,-36,-29,-21,-14,-7,0,7,14,21,29,36,43,50,57,64,71,79,
    86,93,100,107,114,121,129,143,157,169,179,193,207,217,226,236,246,254,264,271,
    279,286,293,300,307,314,321,329,336,343,350,357,364,371,379,386,393,400,407,414,
    421,429,436,443,450,457,471,486,500,514,529,543,557,571,586,593,600,607,614,621,
    629,636,643,650,657,664,671,679,686,693,700,707,714,721,729,736,743,750,757,764,771]
iccf388_val = [0.408,0.270,0.303,0.247,0.293,0.223,0.275,0.200,0.242,0.232,0.200,0.242,0.237,0.237,0.303,0.331,0.317,0.340,0.312,0.317,
    0.307,0.265,0.218,0.204,0.200,0.247,0.284,0.265,0.307,0.293,0.265,0.321,0.293,0.265,0.247,0.218,0.256,0.223,0.200,0.158,
    0.247,0.218,0.303,0.200,0.228,0.261,0.237,0.265,0.284,0.265,0.232,0.270,0.284,0.270,0.256,0.303,0.321,0.340,0.368,0.392,
    0.415,0.424,0.420,0.452,0.476,0.452,0.490,0.462,0.448,0.485,0.481,0.537,0.499,0.471,0.504,0.481,0.495,0.443,0.359,0.481,
    0.490,0.471,0.490,0.452,0.434,0.471,0.443,0.518,0.438,0.410,0.495,0.481,0.499,0.490,0.509,0.466,0.481,0.490,0.462,0.499,
    0.481,0.471,0.495,0.476,0.499,0.504,0.527,0.537,0.555,0.621,0.649,0.644,0.640,0.649,0.621,0.649,0.616,0.602,0.626,0.574,
    0.621,0.583,0.626,0.565,0.630,0.593,0.574,0.551,0.630,0.560,0.621,0.574,0.527,0.598,0.551,0.504,0.527,0.490,0.462,0.452,
    0.434,0.415,0.443,0.406,0.429,0.420,0.424,0.429,0.443,0.448,0.452,0.429,0.415,0.392,0.378,0.349,0.340,0.354,0.326,0.359,
    0.303,0.317,0.284,0.303,0.261,0.293,0.247,0.265,0.237,0.251,0.228,0.242,0.209,0.223,0.186,0.209,0.195,0.218,0.176,0.209,0.232]

iccf246_lag = [-2381,-2368,-2354,-2340,-2326,-2312,-2298,-2284,-2266,-2247,-2229,-2206,-2183,-2159,-2136,-2113,-2090,-2067,-2044,-2021,
    -1998,-1974,-1951,-1928,-1905,-1882,-1859,-1836,-1813,-1790,-1766,-1743,-1720,-1697,-1674,-1651,-1628,-1605,-1581,-1558,
    -1535,-1512,-1489,-1466,-1443,-1420,-1396,-1373,-1350,-1327,-1304,-1281,-1258,-1235,-1211,-1188,-1165,-1142,-1119,-1096,
    -1073,-1050,-1027,-1003,-980,-934,-888,-842,-795,-749,-703,-657,-633,-610,-587,-564,-541,-518,-495,-472,
    -449,-425,-402,-379,-356,-333,-310,-287,-264,-240,-217,-194,-171,-148,-125,-102,-79,-55,-32,-9,
    14,37,60,83,106,129,153,176,199,222,245,268,291,314,338,361,384,407,430,453,
    476,499,523,546,569,592,615,638,661,684,707,731,754,777,800,823,846,869,892,916,
    939,962,985,1008,1031,1054,1077,1101,1124,1147,1170,1193,1216,1239,1262,1285,1309,1332,1355,1378,
    1401,1424,1447,1470,1494,1517,1540,1563,1586,1609,1632,1655,1679,1702,1725,1748,1771,1794,1817,1840,
    1863,1887,1910,1924,1942,1961,1979,2002,2025,2048,2072,2095,2118,2141,2164,2187,2210,2233,2257,2280,
    2303,2326,2349,2372,2395,2418,2442,2465,2488,2511]
iccf246_val = [0.776,-0.653,0.735,-0.408,0.748,-0.463,0.408,-0.354,0.136,-0.245,0.109,-0.136,0.327,-0.327,0.190,0.0,0.245,-0.068,0.136,-0.245,
    0.082,-0.218,0.068,-0.082,0.218,-0.231,0.259,0.082,0.286,0.068,0.327,0.0,-0.272,0.136,0.014,-0.109,0.082,-0.068,0.163,-0.027,
    0.082,-0.109,0.109,0.014,-0.136,0.136,0.0,-0.163,0.150,-0.136,-0.163,-0.150,-0.204,-0.177,-0.272,-0.381,-0.218,0.027,-0.082,0.054,
    0.027,0.082,0.122,0.082,0.027,-0.054,-0.136,-0.259,-0.054,0.014,0.082,0.150,0.054,-0.041,0.041,0.0,-0.027,0.014,-0.054,0.0,
    -0.027,-0.136,0.054,0.014,0.190,0.163,0.136,0.109,-0.163,-0.177,0.027,-0.027,-0.136,-0.082,0.218,0.245,0.272,0.245,0.218,0.313,
    0.190,0.163,0.082,0.054,0.0,-0.122,-0.027,-0.082,-0.177,-0.136,-0.082,0.0,0.054,0.082,0.109,0.0,0.054,0.218,0.054,0.0,
    0.014,-0.041,-0.082,-0.122,-0.136,-0.177,-0.218,-0.259,-0.136,-0.054,-0.082,-0.109,-0.190,-0.272,-0.299,-0.354,-0.422,-0.449,-0.435,-0.381,
    -0.299,-0.190,-0.054,0.082,0.190,0.272,0.313,0.259,0.286,0.218,0.231,0.245,0.218,0.245,0.259,0.272,0.313,0.354,0.395,0.408,
    0.367,0.299,0.245,0.286,0.163,0.245,0.204,0.082,0.041,0.109,0.082,0.095,0.204,0.231,0.259,0.245,0.204,0.163,0.136,0.082,
    0.054,-0.082,-0.163,-0.272,-0.190,-0.218,-0.190,-0.231,-0.190,-0.163,-0.136,-0.122,-0.177,-0.231,-0.272,-0.327,-0.299,-0.354,-0.272,-0.245,
    -0.408,-0.313,-0.245,-0.272,-0.299,-0.272,-0.245,-0.327,-0.313,-0.340]

titles = ["RM459, Grade=5, lag=268d", "RM388, Grade=3, lag=265d", "RM246, Grade=1, lag=1383d"]

# ---------------- figure ----------------
W, H = 1996, 2027
fig = plt.figure(figsize=(W / 100, H / 100), dpi=100)


def rect(x0, y0, x1, y1):
    return [x0 / W, 1 - y1 / H, (x1 - x0) / W, (y1 - y0) / H]


def style(ax, fs):
    ax.tick_params(which='both', direction='in', top=True, right=True, labelsize=fs)
    ax.tick_params(which='major', length=13, width=1.5)
    ax.tick_params(which='minor', length=7, width=1.2)
    ax.tick_params(axis='x', which='both', pad=10)
    ax.tick_params(axis='y', which='both', pad=6.5)
    for s in ax.spines.values():
        s.set_linewidth(1.5)


def light_curve(ax, ct, cf, ce, lt, lf, le, title, fs, lfs, xlim, ylim, ymaj, ymin, ty, ylab_x):
    n = min(len(ct), len(cf), len(ce))
    ax.errorbar(ct[:n], cf[:n], yerr=ce[:n], fmt='o', ms=4.5, color='C0', elinewidth=1.6, label='cont')
    m = min(len(lt), len(lf), len(le))
    ax.errorbar(lt[:m], lf[:m], yerr=le[:m], fmt='o', ms=4.5, color='C1', elinewidth=1.6, label='MgII shifted')
    ax.set_xlim(*xlim)
    ax.set_ylim(*ylim)
    ax.xaxis.set_major_locator(MultipleLocator(1000))
    ax.xaxis.set_minor_locator(MultipleLocator(200))
    ax.yaxis.set_major_locator(MultipleLocator(ymaj))
    ax.yaxis.set_minor_locator(MultipleLocator(ymin))
    style(ax, fs)
    ax.set_xlabel('MJD-50000', fontsize=fs, labelpad=6)
    ax.set_ylabel('Normalized Flux', fontsize=fs)
    ax.yaxis.set_label_coords(ylab_x, 0.5)
    ax.legend(loc='upper left', fontsize=lfs, labelspacing=0.0)
    tr = blended_transform_factory(ax.transData, ax.transAxes)
    ax.text(6500, ty, title, transform=tr, fontsize=fs, va='center', ha='left', zorder=1)


def iccf(ax, lag, val, fs, xlim, ylim, xmaj, xmin, ymaj, ymin, ylab_x):
    n = min(len(lag), len(val))
    ax.plot(lag[:n], val[:n], color='black', lw=2.5)
    ax.axvline(0, color='gray', ls='--', lw=1.5)
    ax.set_xlim(*xlim)
    ax.set_ylim(*ylim)
    ax.xaxis.set_major_locator(MultipleLocator(xmaj))
    ax.xaxis.set_minor_locator(MultipleLocator(xmin))
    ax.yaxis.set_major_locator(MultipleLocator(ymaj))
    ax.yaxis.set_minor_locator(MultipleLocator(ymin))
    style(ax, fs)
    ax.set_xlabel('Lags [days]', fontsize=fs, labelpad=6)
    ax.set_ylabel('ICCF', fontsize=fs)
    ax.yaxis.set_label_coords(ylab_x, 0.5)


# Row 1
ax1 = fig.add_axes(rect(142, 19, 1276, 527))
light_curve(ax1, rm459_cont_t, rm459_cont_f, rm459_cont_e, rm459_line_t, rm459_line_f, rm459_line_e,
            titles[0], 33, 24.5, (4760, 9235), (0.407, 2.0), 0.5, 0.1, 0.917, -0.084)
ax2 = fig.add_axes(rect(1465, 19, 1937, 527))
iccf(ax2, iccf459_lag, iccf459_val, 32.5, (-1030, 1022), (-0.324, 0.617), 1000, 200, 0.2, 0.05, -0.279)

# Row 2
ax3 = fig.add_axes(rect(102, 677, 1293, 1213))
light_curve(ax3, rm388_cont_t, rm388_cont_f, rm388_cont_e, rm388_line_t, rm388_line_f, rm388_line_e,
            titles[1], 35, 26, (4752, 9228), (-0.72, 2.96), 1, 0.2, 0.906, -0.046)
ax4 = fig.add_axes(rect(1496, 677, 1988, 1213))
iccf(ax4, iccf388_lag, iccf388_val, 34.5, (-853, 848), (0.104, 0.706), 500, 100, 0.2, 0.05, -0.198)

# Row 3
ax5 = fig.add_axes(rect(145, 1388, 1310, 1911))
light_curve(ax5, rm246_cont_t, rm246_cont_f, rm246_cont_e, rm246_line_t, rm246_line_f, rm246_line_e,
            titles[2], 34, 25.6, (4757, 9223), (0.20, 2.0), 0.5, 0.1, 0.905, -0.084)
ax6 = fig.add_axes(rect(1506, 1388, 1991, 1911))
iccf(ax6, iccf246_lag, iccf246_val, 33, (-2630, 2765), (-0.809, 0.933), 2000, 500, 0.5, 0.1, -0.275)

fig.savefig('out.png', dpi=100)
